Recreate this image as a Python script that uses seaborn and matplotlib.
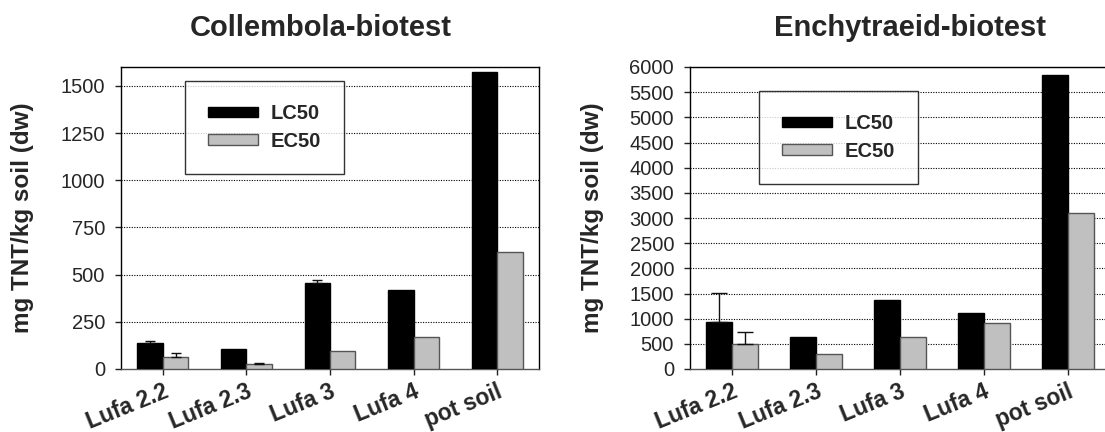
import matplotlib
matplotlib.use("Agg")
import matplotlib.pyplot as plt
import seaborn as sns
import pandas as pd
from matplotlib.patches import Patch

categories = ["Lufa 2.2", "Lufa 2.3", "Lufa 3", "Lufa 4", "pot soil"]
series = ["LC50", "EC50"]

coll_lc50 = [140, 105, 454, 418, 1572]
coll_ec50 = [63, 26, 95, 172, 619]
coll_lc50_err = [10, 0, 16, 0, 0]
coll_ec50_err = [21, 6, 0, 0, 0]

ench_lc50 = [935, 645, 1377, 1107, 5843]
ench_ec50 = [500, 296, 626, 916, 3109]
ench_lc50_err = [567, 0, 0, 0, 0]
ench_ec50_err = [231, 0, 0, 0, 0]

coll_ticks = [0, 250, 500, 750, 1000, 1250, 1500]
ench_ticks = list(range(0, 6001, 500))

sns.set_theme(style="white")
plt.rcParams["font.family"] = ["Liberation Sans", "DejaVu Sans"]

colors = ["#000000", "#C0C0C0"]
edges = ["#000000", "#555555"]

W, H = 1105, 432
fig = plt.figure(figsize=(W / 100, H / 100), dpi=100)
ax1 = fig.add_axes([121 / W, 1 - 369 / H, 418 / W, 302 / H])
ax2 = fig.add_axes([690 / W, 1 - 369 / H, 420 / W, 302 / H])


def draw(ax, lc, ec, lc_err, ec_err, ticks, ylim, title, title_x, legend_box,
         label_x, capsize):
    df = pd.DataFrame({
        "soil": categories * 2,
        "series": [series[0]] * len(categories) + [series[1]] * len(categories),
        "value": lc + ec,
    })
    sns.barplot(data=df, x="soil", y="value", hue="series", order=categories,
                hue_order=series, palette=colors, width=0.61, errorbar=None,
                saturation=1, ax=ax, legend=False, zorder=3)
    for cont, ecol, errs in zip(ax.containers, edges, [lc_err, ec_err]):
        for bar, e in zip(cont, errs):
            bar.set_edgecolor(ecol)
            bar.set_linewidth(1.0)
            if e > 0:
                xc = bar.get_x() + bar.get_width() / 2
                h = bar.get_height()
                ax.errorbar([xc], [h], yerr=[[0], [e]], fmt="none",
                            ecolor="#111111", elinewidth=1, capsize=capsize,
                            capthick=1, zorder=4)
    ax.set_ylim(*ylim)
    ax.set_xlim(-0.5, len(categories) - 0.5)
    ax.set_yticks(ticks)
    ax.set_yticklabels([str(t) for t in ticks], fontsize=14.5)
    for t in ticks:
        if t > 0:
            ax.axhline(t, color="#000000", linestyle=(0, (1, 1.3)),
                       linewidth=0.8, zorder=1)
    ax.set_xticks(range(len(categories)))
    ax.set_xticklabels(categories, rotation=22, ha="right", va="top",
                       rotation_mode="anchor", fontsize=16.5, fontweight="bold")
    ax.tick_params(axis="y", which="both", direction="out", length=4, width=1,
                   color="#222222", left=True, pad=7.5)
    ax.tick_params(axis="x", which="both", direction="out", length=4, width=1,
                   color="#222222", bottom=True, pad=4)
    ax.set_xlabel("")
    ax.set_ylabel("mg TNT/kg soil (dw)", fontsize=17.5, fontweight="bold",
                  va="center")
    ax.yaxis.set_label_coords(label_x, 0.5)
    fig.text(title_x / W, 1 - 36 / H, title, fontsize=21, fontweight="bold",
             ha="center", va="baseline")
    for s in ax.spines.values():
        s.set_visible(True)
        s.set_color("#000000")
        s.set_linewidth(1.0)
    ax.spines["bottom"].set_color("#555555")
    handles = [Patch(facecolor=colors[i], edgecolor=edges[i], label=series[i])
               for i in range(2)]
    leg = ax.legend(handles=handles, loc="upper left", bbox_to_anchor=legend_box,
                    frameon=True, fancybox=False, shadow=False, handlelength=2.45,
                    handleheight=0.45, labelspacing=0.42, borderpad=1.15,
                    handletextpad=0.65, borderaxespad=0,
                    prop={"weight": "bold", "size": 14.5})
    leg.get_frame().set_edgecolor("#000000")
    leg.get_frame().set_linewidth(1.0)
    leg.set_zorder(5)


draw(ax1, coll_lc50, coll_ec50, coll_lc50_err, coll_ec50_err, coll_ticks,
     (0, 1600), "Collembola-biotest", 321,
     ((185 - 121) / 418, (369 - 81) / 302), (23 - 121) / 418, 3.3)
draw(ax2, ench_lc50, ench_ec50, ench_lc50_err, ench_ec50_err, ench_ticks,
     (0, 6000), "Enchytraeid-biotest", 910,
     ((759 - 690) / 420, (369 - 91) / 302), (593 - 690) / 420, 6)

fig.savefig("out.png", dpi=100, facecolor="white")
